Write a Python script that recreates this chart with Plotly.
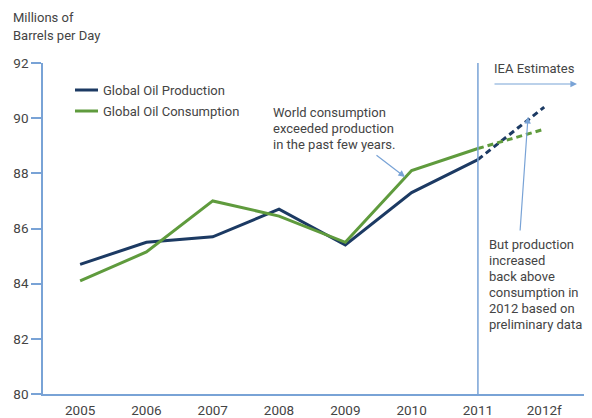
import plotly.graph_objects as go

years = ["2005", "2006", "2007", "2008", "2009", "2010", "2011", "2012f"]
production = [84.7, 85.5, 85.7, 86.7, 85.4, 87.3, 88.5, 90.4]
consumption = [84.1, 85.15, 87.0, 86.45, 85.5, 88.1, 88.9, 89.6]
y_ticks = [80, 82, 84, 86, 88, 90, 92]

NAVY = "#1c3a63"
GREEN = "#5f9b3d"
BLUE = "#79a3d6"
TXT = "#444444"
FONT = "Roboto, sans-serif"

# page body has an 8px margin; work in reference-window pixels and offset
OFF = 8
W, H = 592 - OFF, 418 - OFF
L, R, T, B = 43 - OFF, 584 - OFF, 63 - OFF, 394 - OFF


def px(xp):
    return (xp - OFF - L) / (R - L)


def py(yp):
    return (B - (yp - OFF)) / (B - T)


fig = go.Figure()
n_act = years.index("2011") + 1
fig.add_trace(go.Scatter(x=years[:n_act], y=production[:n_act], mode="lines",
                         line=dict(color=NAVY, width=3), showlegend=False))
fig.add_trace(go.Scatter(x=years[:n_act], y=consumption[:n_act], mode="lines",
                         line=dict(color=GREEN, width=3), showlegend=False))
fig.add_trace(go.Scatter(x=years[n_act - 1:], y=production[n_act - 1:], mode="lines",
                         line=dict(color=NAVY, width=3, dash="6px,4px"), showlegend=False))
fig.add_trace(go.Scatter(x=years[n_act - 1:], y=consumption[n_act - 1:], mode="lines",
                         line=dict(color=GREEN, width=3, dash="6px,4px"), showlegend=False))

shapes = [
    dict(type="line", xref="x", yref="y", x0=6, x1=6, y0=80, y1=92,
         line=dict(color=BLUE, width=1.5)),
    dict(type="line", xref="paper", yref="paper", x0=px(75), x1=px(98), y0=py(90), y1=py(90),
         line=dict(color=NAVY, width=3)),
    dict(type="line", xref="paper", yref="paper", x0=px(75), x1=px(98), y0=py(111), y1=py(111),
         line=dict(color=GREEN, width=3)),
]

annotations = []


def txt(x, y, s, size=13, anchor="left"):
    annotations.append(dict(xref="paper", yref="paper", x=px(x), y=py(y), text=s,
                            showarrow=False, xanchor=anchor, yanchor="middle",
                            xshift=-1,
                            font=dict(family=FONT, size=size, color=TXT)))


def arrow(x0, y0, x1, y1):
    annotations.append(dict(xref="paper", yref="paper", x=px(x1), y=py(y1),
                            axref="pixel", ayref="pixel", ax=x0 - x1, ay=y0 - y1,
                            text="", showarrow=True, arrowhead=2, arrowsize=1.1,
                            arrowwidth=1.2, arrowcolor=BLUE))


# y-axis title
txt(12, 17, "Millions of")
txt(12, 36, "Barrels per Day")

txt(102, 90, "Global Oil Production")
txt(102, 111, "Global Oil Consumption")

for i, s in enumerate(["World consumption", "exceeded production", "in the past few years."]):
    txt(272, 112 + 16 * i, s)
arrow(375, 154, 405, 177)

txt(493, 69, "IEA Estimates")
arrow(493, 84, 577, 84)

for i, s in enumerate(["But production", "increased", "back above", "consumption in",
                       "2012 based on", "preliminary data"]):
    txt(488, 244 + 16 * i, s)
arrow(520, 232, 528, 117)

fig.update_layout(
    width=W, height=H,
    margin=dict(l=L, r=W - R, t=T, b=H - B, autoexpand=False),
    paper_bgcolor="white", plot_bgcolor="white",
    shapes=shapes, annotations=annotations, showlegend=False,
    xaxis=dict(type="category", range=[-0.56, 7.6], showgrid=False, zeroline=False,
               showline=True, linecolor=BLUE, linewidth=1.5, ticks="",
               ticklabelstandoff=3,
               tickfont=dict(family=FONT, size=13.5, color=TXT)),
    yaxis=dict(range=[80, 92], tickvals=y_ticks, showgrid=False, zeroline=False,
               showline=True, linecolor=BLUE, linewidth=1.5, ticks="outside",
               ticklen=10, tickcolor=BLUE, tickwidth=1.5,
               tickfont=dict(family=FONT, size=13.5, color=TXT)),
)

fig.write_html("out.html")
